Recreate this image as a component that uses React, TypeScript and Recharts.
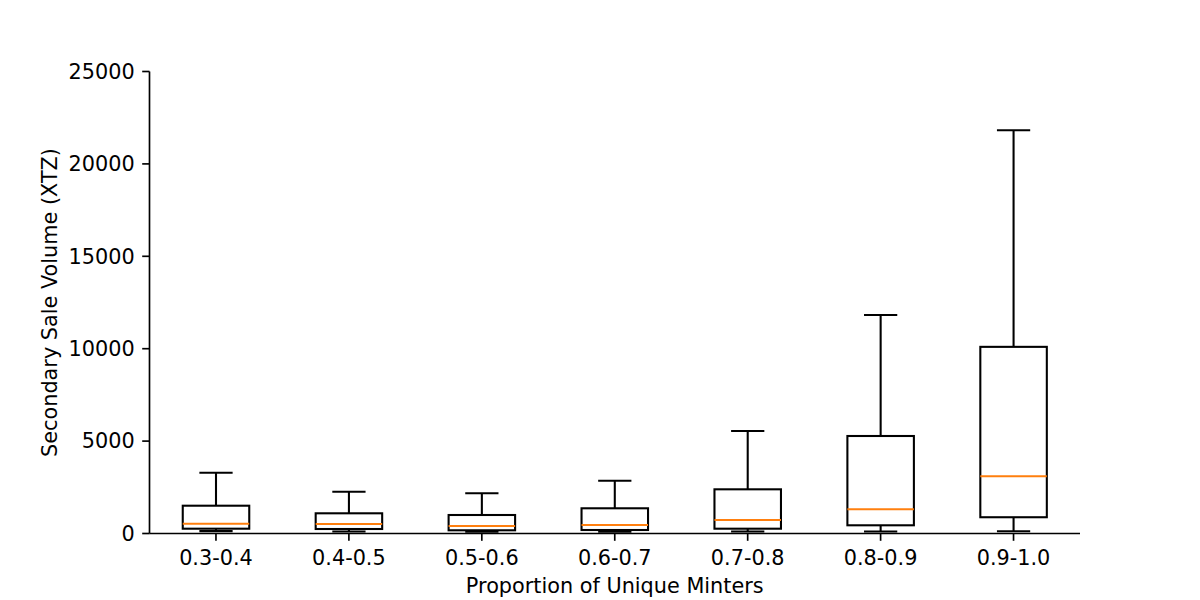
import React from 'react';
import { ComposedChart, Bar, XAxis, YAxis, Label } from 'recharts';

const categories = ['0.3-0.4', '0.4-0.5', '0.5-0.6', '0.6-0.7', '0.7-0.8', '0.8-0.9', '0.9-1.0'];
const whiskerLow = [130, 110, 100, 100, 110, 110, 120];
const q1Values = [260, 243, 173, 189, 260, 444, 880];
const medianValues = [530, 514, 406, 460, 730, 1309, 3095];
const q3Values = [1504, 1093, 1001, 1364, 2391, 5276, 10100];
const whiskerHigh = [3290, 2262, 2175, 2857, 5546, 11823, 21820];
const yTicks = [0, 5000, 10000, 15000, 20000, 25000];

const data = categories.map((c, i) => ({
  name: c,
  low: whiskerLow[i],
  q1: q1Values[i],
  median: medianValues[i],
  q3: q3Values[i],
  high: whiskerHigh[i],
  range: [whiskerLow[i], whiskerHigh[i]],
}));

const FONT = '"DejaVu Sans", sans-serif';
const FS = 20.8;
const LW = 2.08;

const BoxShape = (props: any) => {
  const { x, y, width, height, payload } = props;
  const { low, q1, median, q3, high } = payload;
  const toY = (v: number) => y + ((high - v) / (high - low)) * height;
  const cx = x + width / 2;
  const bw = width * 0.5;
  const cw = width * 0.25;
  const yHigh = toY(high);
  const yLow = toY(low);
  const yQ1 = toY(q1);
  const yQ3 = toY(q3);
  const yMed = toY(median);
  return (
    <g>
      <line x1={cx} x2={cx} y1={yHigh} y2={yQ3} stroke="#000" strokeWidth={LW} />
      <line x1={cx} x2={cx} y1={yQ1} y2={yLow} stroke="#000" strokeWidth={LW} />
      <line x1={cx - cw / 2} x2={cx + cw / 2} y1={yHigh} y2={yHigh} stroke="#000" strokeWidth={LW} />
      <line x1={cx - cw / 2} x2={cx + cw / 2} y1={yLow} y2={yLow} stroke="#000" strokeWidth={LW} />
      <rect x={cx - bw / 2} y={yQ3} width={bw} height={yQ1 - yQ3} fill="none" stroke="#000" strokeWidth={LW} />
      <line x1={cx - bw / 2} x2={cx + bw / 2} y1={yMed} y2={yMed} stroke="#ff7f0e" strokeWidth={LW} />
    </g>
  );
};

const YLabel = (props: any) => {
  const vb = props.viewBox || {};
  const cx = 50;
  const cy = vb.y + vb.height / 2;
  return (
    <text
      x={cx}
      y={cy}
      transform={`rotate(-90, ${cx}, ${cy})`}
      textAnchor="middle"
      dominantBaseline="central"
      fontFamily={FONT}
      fontSize={FS}
      fill="#000"
    >
      Secondary Sale Volume (XTZ)
    </text>
  );
};

export default function App() {
  return (
    <div style={{ position: 'absolute', left: 0, top: 0, width: 1200, height: 600, background: '#fff' }}>
      <ComposedChart
        width={1200}
        height={600}
        data={data}
        margin={{ top: 71.5, right: 120, bottom: 0, left: 0 }}
        barCategoryGap={0}
        barGap={0}
      >
        <XAxis
          dataKey="name"
          height={66.5}
          axisLine={{ stroke: '#000', strokeWidth: 1.67 }}
          tickLine={{ stroke: '#000', strokeWidth: 1.67 }}
          tickSize={7.3}
          tickMargin={9.3}
          tick={{ fill: '#000', fontSize: FS, fontFamily: FONT }}
          interval={0}
        >
          <Label
            value="Proportion of Unique Minters"
            position="insideBottom"
            offset={7}
            fill="#000"
            fontSize={FS}
            fontFamily={FONT}
          />
        </XAxis>
        <YAxis
          width={149.5}
          domain={[0, 25000]}
          ticks={yTicks}
          type="number"
          allowDataOverflow
          axisLine={{ stroke: '#000', strokeWidth: 1.67 }}
          tickLine={{ stroke: '#000', strokeWidth: 1.67 }}
          tickSize={7.3}
          tickMargin={7.5}
          tick={{ fill: '#000', fontSize: FS, fontFamily: FONT }}
        >
          <Label content={<YLabel />} />
        </YAxis>
        <Bar dataKey="range" shape={<BoxShape />} isAnimationActive={false} />
      </ComposedChart>
    </div>
  );
}
